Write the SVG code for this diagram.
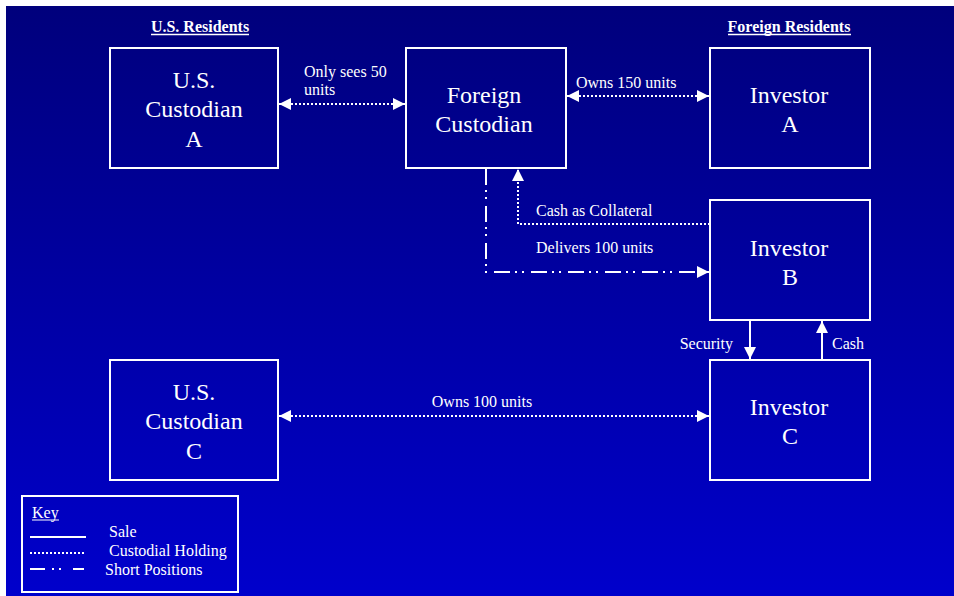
<svg xmlns="http://www.w3.org/2000/svg" width="954" height="596" viewBox="0 0 954 596">
<style>
.box{fill:none;stroke:#fff;stroke-width:2}
.nt{font-family:"Liberation Serif","Times New Roman",serif;font-size:24px;fill:#fff;text-anchor:middle}
.lb{font-family:"Liberation Serif","Times New Roman",serif;font-size:16px;fill:#fff}
.hd{font-family:"Liberation Serif","Times New Roman",serif;font-size:16px;font-weight:bold;fill:#fff;text-anchor:middle}
.dot{fill:none;stroke:#fff;stroke-width:2;stroke-dasharray:2 2}
.sol{fill:none;stroke:#fff;stroke-width:2}
.dd{fill:none;stroke:#fff;stroke-width:2;stroke-dasharray:16 5 2 5 2 7}
</style>
<defs>
<linearGradient id="bg" x1="0" y1="0" x2="0" y2="1">
<stop offset="0" stop-color="#00007c"/>
<stop offset="1" stop-color="#0000cc"/>
</linearGradient>
<marker id="ah" markerUnits="userSpaceOnUse" markerWidth="12" markerHeight="12" refX="12" refY="6" orient="auto-start-reverse" viewBox="0 0 12 12">
<path d="M0,0 L12,6 L0,12 z" fill="#fff"/>
</marker>
</defs>
<rect x="0" y="0" width="954" height="596" fill="#fff"/>
<rect x="6" y="6" width="948" height="590" fill="url(#bg)"/>
<g id="headers">
<text class="hd" x="200" y="32">U.S. Residents</text>
<line x1="151" y1="34.5" x2="249" y2="34.5" stroke="#fff" stroke-width="1.5"/>
<text class="hd" x="789" y="32">Foreign Residents</text>
<line x1="728" y1="34.5" x2="851" y2="34.5" stroke="#fff" stroke-width="1.5"/>
</g>
<g id="us-custodian-a">
<rect class="box" x="110" y="48" width="168" height="120"/>
<text class="nt" x="194" y="88">U.S.</text>
<text class="nt" x="194" y="117">Custodian</text>
<text class="nt" x="194" y="147">A</text>
</g>
<g id="foreign-custodian">
<rect class="box" x="406" y="48" width="160" height="120"/>
<text class="nt" x="484" y="103">Foreign</text>
<text class="nt" x="484" y="132">Custodian</text>
</g>
<g id="investor-a">
<rect class="box" x="710" y="48" width="160" height="120"/>
<text class="nt" x="789" y="103">Investor</text>
<text class="nt" x="790" y="132">A</text>
</g>
<g id="investor-b">
<rect class="box" x="710" y="200" width="160" height="120"/>
<text class="nt" x="789" y="256">Investor</text>
<text class="nt" x="790" y="285">B</text>
</g>
<g id="investor-c">
<rect class="box" x="710" y="360" width="160" height="120"/>
<text class="nt" x="789" y="415">Investor</text>
<text class="nt" x="790" y="444">C</text>
</g>
<g id="us-custodian-c">
<rect class="box" x="110" y="360" width="168" height="120"/>
<text class="nt" x="194" y="400">U.S.</text>
<text class="nt" x="194" y="429">Custodian</text>
<text class="nt" x="194" y="459">C</text>
</g>
<g id="connectors">
<line class="dot" x1="279" y1="104" x2="405" y2="104" marker-start="url(#ah)" marker-end="url(#ah)"/>
<line class="dot" x1="567" y1="96" x2="709" y2="96" marker-start="url(#ah)" marker-end="url(#ah)"/>
<polyline class="dot" points="710,224 518,224 518,169" marker-end="url(#ah)"/>
<polyline class="dd" points="486,169 486,272 709,272" marker-end="url(#ah)"/>
<line class="sol" x1="750" y1="321" x2="750" y2="359" marker-end="url(#ah)"/>
<line class="sol" x1="822" y1="359" x2="822" y2="321" marker-end="url(#ah)"/>
<line class="dot" x1="279" y1="416" x2="709" y2="416" marker-start="url(#ah)" marker-end="url(#ah)"/>
<text class="lb" x="304" y="77">Only sees 50</text>
<text class="lb" x="304" y="95">units</text>
<text class="lb" x="576" y="88">Owns 150 units</text>
<text class="lb" x="536" y="216">Cash as Collateral</text>
<text class="lb" x="536" y="253">Delivers 100 units</text>
<text class="lb" x="733" y="349" text-anchor="end">Security</text>
<text class="lb" x="832" y="349">Cash</text>
<text class="lb" x="482" y="407" text-anchor="middle">Owns 100 units</text>
</g>
<g id="key">
<rect class="box" x="22" y="496" width="216" height="96"/>
<text class="lb" x="32" y="518">Key</text>
<line x1="32" y1="520" x2="59" y2="520" stroke="#fff" stroke-width="1"/>
<line class="sol" x1="30" y1="537" x2="86" y2="537"/>
<text class="lb" x="109" y="537">Sale</text>
<line class="dot" x1="30" y1="553" x2="85" y2="553"/>
<text class="lb" x="109" y="556">Custodial Holding</text>
<line class="dd" x1="30" y1="569" x2="84" y2="569" style="stroke-dasharray:15 7 2 5 2 12"/>
<text class="lb" x="105" y="575">Short Positions</text>
</g>
</svg>
